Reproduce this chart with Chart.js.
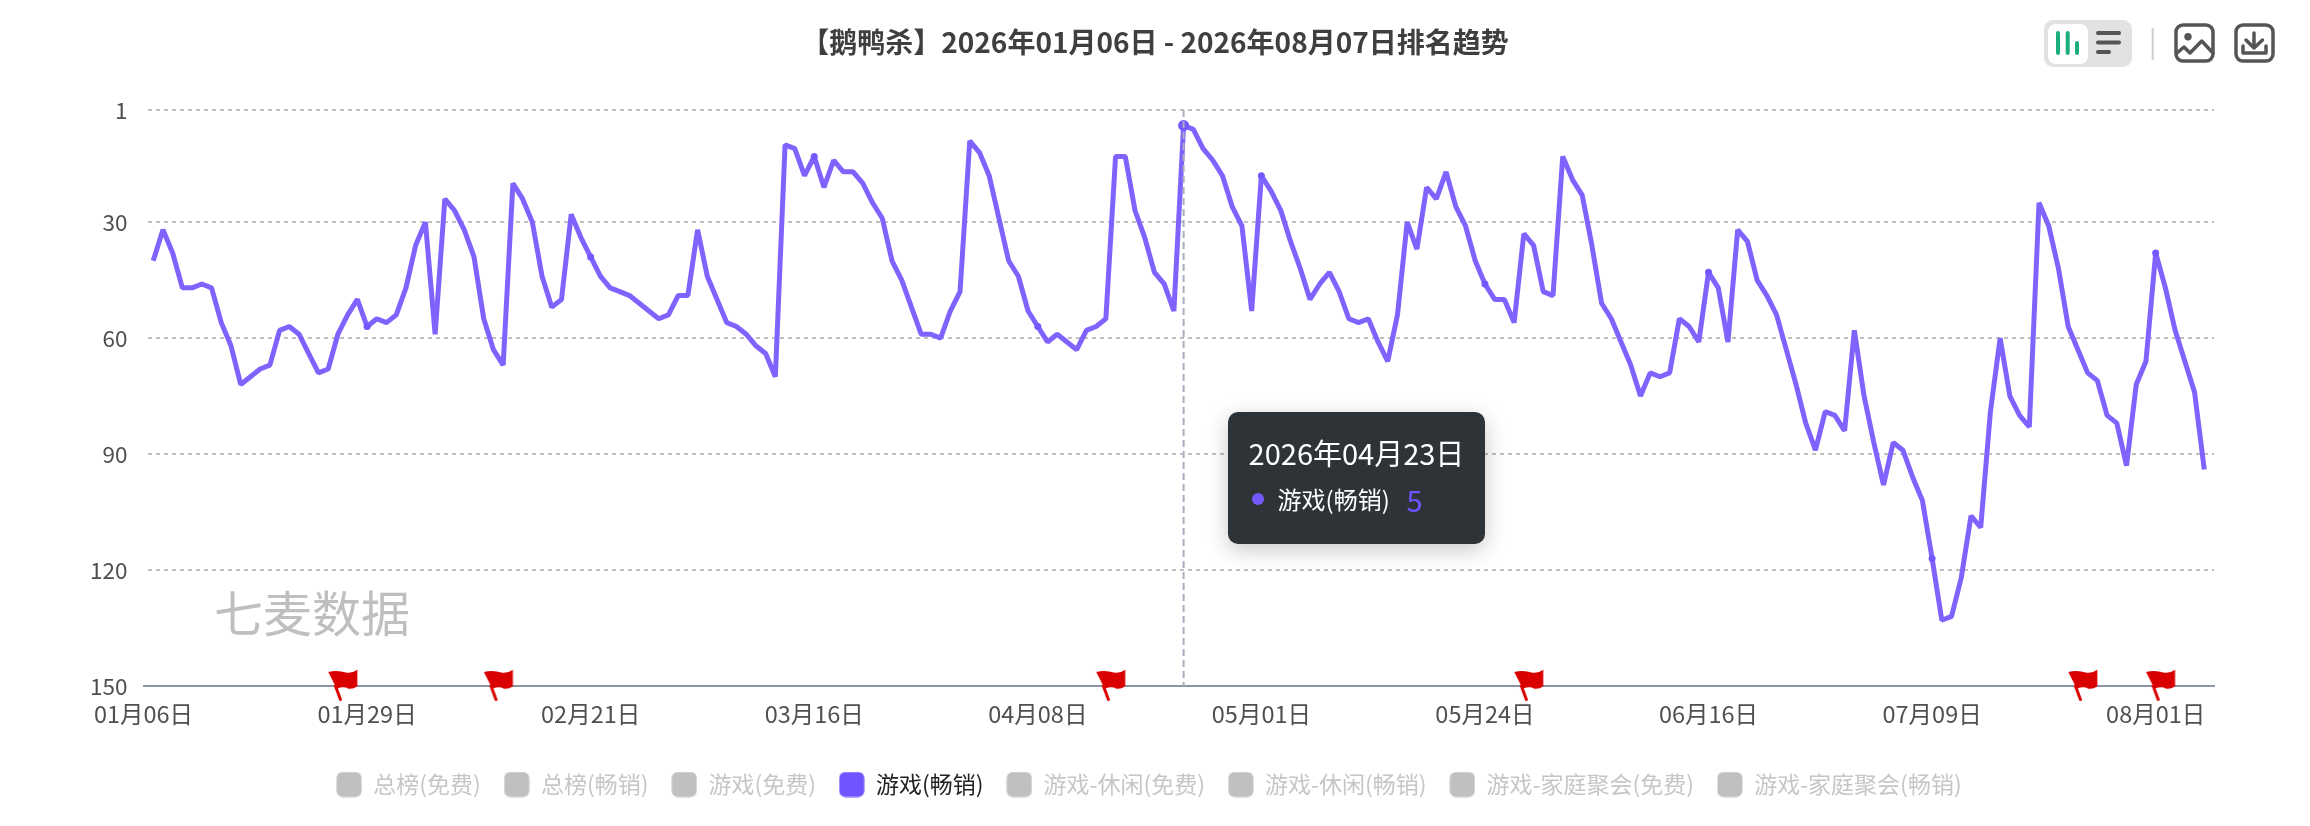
<!DOCTYPE html>
<html>
<head>
<meta charset="utf-8">
<title>鹅鸭杀排名趋势</title>
<script src="https://cdn.jsdelivr.net/npm/chart.js@4"></script>
<style>
    html, body { margin: 0; padding: 0; background: #fff; }
    body { width: 2310px; height: 826px; position: relative; overflow: hidden; font-family: "Noto Sans CJK SC", sans-serif; }
    canvas { position: absolute; left: 0; top: 0; }
    #watermark { position: absolute; left: 214px; top: 578px; font-size: 49px; line-height: 66px; color: #bfbfbf; white-space: nowrap; }
    #tools { position: absolute; left: 0; top: 0; }
    #tip { position: absolute; width: 257px; height: 132px; box-sizing: border-box; background: #2d3337; border-radius: 10px; box-shadow: 0 6px 22px rgba(0, 0, 0, 0.22); color: #fff; }
    #tip .date { position: absolute; left: 21px; top: 20px; font-size: 29px; line-height: 40px; white-space: nowrap; }
    #tip .dot { position: absolute; left: 24px; top: 81px; width: 12px; height: 12px; border-radius: 50%; background: #7358fa; }
    #tip .name { position: absolute; left: 50px; top: 70px; font-size: 24px; line-height: 34px; white-space: nowrap; }
    #tip .num { position: absolute; left: 179px; top: 67px; font-size: 29px; line-height: 40px; color: #6f54ff; }
</style>
</head>
<body>
<canvas id="rankChart" width="2310" height="826"></canvas>
<div id="watermark">七麦数据</div>
<svg id="tools" width="2310" height="80" fill="none">
    <rect x="2044" y="20" width="88" height="47" rx="9" fill="#e2e2e2"/>
    <rect x="2048" y="24" width="40" height="40" rx="8" fill="#fff"/>
    <g stroke="#1aae7c" stroke-width="4" stroke-linecap="round">
        <path d="M2058 33V53M2067.7 33V53M2077 43V53"/>
    </g>
    <g stroke="#555" stroke-width="4" stroke-linecap="round">
        <path d="M2098 33H2119M2098 42.5H2119M2098 52H2109"/>
    </g>
    <path d="M2152.7 28V60" stroke="#cfcfcf" stroke-width="2"/>
    <g stroke="#555" stroke-width="3.5" stroke-linecap="round" stroke-linejoin="round">
        <rect x="2176" y="25" width="37" height="36" rx="7"/>
        <path d="M2177 53L2184 47L2190 53L2201.7 41L2213 53"/>
        <rect x="2236" y="25" width="37" height="36" rx="7"/>
        <path d="M2254 33V48M2246 40L2254 48L2262.5 40M2243 46V53H2266V46"/>
    </g>
    <circle cx="2188" cy="36.7" r="3.7" fill="#555"/>
</svg>
<div id="tip">
    <div class="date"></div>
    <div class="dot"></div>
    <div class="name"></div>
    <div class="num"></div>
</div>
<script>
const chartTitle = '【鹅鸭杀】2026年01月06日 - 2026年08月07日排名趋势';
const legendNames = ['总榜(免费)', '总榜(畅销)', '游戏(免费)', '游戏(畅销)', '游戏-休闲(免费)', '游戏-休闲(畅销)', '游戏-家庭聚会(免费)', '游戏-家庭聚会(畅销)'];
const activeSeries = '游戏(畅销)';
const yTicks = [1, 30, 60, 90, 120, 150];
const tickLabels = ['01月06日', '01月29日', '02月21日', '03月16日', '04月08日', '05月01日', '05月24日', '06月16日', '07月09日', '08月01日'];
const flagDates = ['01月26日', '02月11日', '04月15日', '05月28日', '07月24日', '08月01日'];
const highlightDate = '04月23日';
const highlightTitle = '2026年04月23日';

// 01月06日 and 08月07日 have no rank on the picture
const rankValues = [null,
    40, 32, 38, 47, 47, 46, 47, 56, 62, 72,
    70, 68, 67, 58, 57, 59, 64, 69, 68, 59,
    54, 50, 57, 55, 56, 54, 47, 36, 30, 59,
    24, 27, 32, 39, 55, 63, 67, 20, 24, 30,
    44, 52, 50, 28, 34, 39, 44, 47, 48, 49,
    51, 53, 55, 54, 49, 49, 32, 44, 50, 56,
    57, 59, 62, 64, 70, 10, 11, 18, 13, 21,
    14, 17, 17, 20, 25, 29, 40, 45, 52, 59,
    59, 60, 53, 48, 9, 12, 18, 29, 40, 44,
    53, 57, 61, 59, 61, 63, 58, 57, 55, 13,
    13, 27, 34, 43, 46, 53, 5, 6, 11, 14,
    18, 26, 31, 53, 18, 22, 27, 35, 42, 50,
    46, 43, 48, 55, 56, 55, 61, 66, 54, 30,
    37, 21, 24, 17, 26, 31, 40, 46, 50, 50,
    56, 33, 36, 48, 49, 13, 19, 23, 36, 51,
    55, 61, 67, 75, 69, 70, 69, 55, 57, 61,
    43, 47, 61, 32, 35, 45, 49, 54, 63, 72,
    82, 89, 79, 80, 84, 58, 75, 87, 98, 87,
    89, 96, 102, 117, 133, 132, 122, 106, 109, 79,
    60, 75, 80, 83, 25, 31, 42, 57, 63, 69,
    71, 80, 82, 93, 72, 66, 38, 47, 58, 66,
    74, 94,
    null];

// one category per day, 01月06日 to 08月07日
const categories = [];
for (let d = new Date(Date.UTC(2026, 0, 6)); d <= new Date(Date.UTC(2026, 7, 7)); d.setUTCDate(d.getUTCDate() + 1)) {
    const mm = String(d.getUTCMonth() + 1).padStart(2, '0');
    const dd = String(d.getUTCDate()).padStart(2, '0');
    categories.push(mm + '月' + dd + '日');
}

const FONT = '"Noto Sans CJK SC", sans-serif';
const highlightIndex = categories.indexOf(highlightDate);
const flagValues = categories.map(c => flagDates.includes(c) ? 150 : null);

// Legend swatch
function makeSwatch(color) {
    const c = document.createElement('canvas');
    c.width = 26;
    c.height = 26;
    const g = c.getContext('2d');
    g.fillStyle = color;
    g.beginPath();
    g.roundRect(0.5, 0.5, 25, 25, 6);
    g.fill();
    return c;
}

// Red flag sitting on the axis, the canvas centre is the data point
function makeFlag() {
    const c = document.createElement('canvas');
    c.width = 60;
    c.height = 60;
    const g = c.getContext('2d');
    g.fillStyle = '#d90000';
    g.beginPath();
    g.moveTo(20.4, 16);
    g.quadraticCurveTo(28.8, 13.5, 38.8, 16.7);
    g.quadraticCurveTo(44, 17.5, 49.4, 13.7);
    g.lineTo(49.4, 30.3);
    g.quadraticCurveTo(45, 33.5, 40.4, 32.7);
    g.quadraticCurveTo(36, 30, 28.8, 32.7);
    g.closePath();
    g.fill();
    g.strokeStyle = '#d90000';
    g.lineWidth = 3;
    g.lineCap = 'round';
    g.beginPath();
    g.moveTo(27.5, 30);
    g.lineTo(32.5, 43.5);
    g.stroke();
    return c;
}

const swatchOn = makeSwatch('#6f54ff');
const swatchOff = makeSwatch('#c0c0c0');

const crosshair = {
    id: 'crosshair',
    afterLayout(chart) {
        // the legend row sits a little left of the page centre
        chart.legend.left -= 6;
        chart.legend.right -= 6;
    },
    afterDatasetsDraw(chart) {
        const g = chart.ctx;
        const x = chart.scales.x.getPixelForValue(highlightIndex);
        g.save();
        g.strokeStyle = '#a9aec0';
        g.lineWidth = 2;
        g.setLineDash([7, 4]);
        g.beginPath();
        g.moveTo(x, chart.chartArea.top);
        g.lineTo(x, chart.chartArea.bottom);
        g.stroke();
        g.restore();
    },
    afterRender(chart) {
        const tip = document.getElementById('tip');
        tip.querySelector('.date').textContent = highlightTitle;
        tip.querySelector('.name').textContent = activeSeries;
        tip.querySelector('.num').textContent = rankValues[highlightIndex];
        tip.style.left = (chart.scales.x.getPixelForValue(highlightIndex) + 44) + 'px';
        tip.style.top = '412px';
    }
};

new Chart(document.getElementById('rankChart'), {
    type: 'line',
    plugins: [crosshair],
    data: {
        labels: categories,
        datasets: [{
            label: activeSeries,
            data: rankValues,
            borderColor: '#8063ff',
            backgroundColor: '#7358ff',
            borderWidth: 5,
            borderJoinStyle: 'bevel',
            tension: 0,
            pointBorderWidth: 0,
            pointRadius: (ctx) => {
                if (ctx.dataIndex === highlightIndex) return 5.5;
                return tickLabels.includes(categories[ctx.dataIndex]) ? 3.5 : 0;
            },
            spanGaps: false
        }, {
            label: 'flags',
            data: flagValues,
            showLine: false,
            clip: false,
            pointStyle: makeFlag(),
            pointRadius: 30
        }]
    },
    options: {
        responsive: false,
        animation: false,
        events: [],
        layout: { padding: { top: 0, left: 0, right: 0, bottom: 20 } },
        scales: {
            x: {
                grid: { display: false },
                border: { display: true, color: '#8d94a6', width: 2 },
                ticks: { autoSkip: false, maxRotation: 0, padding: 5.5, color: '#4f4f4f', font: { family: FONT, size: 23.5 } },
                afterBuildTicks(axis) {
                    axis.ticks = axis.ticks.filter(t => tickLabels.includes(categories[t.value]));
                },
                afterFit(axis) {
                    axis.height = 64;
                    axis.paddingLeft = 0;
                    axis.paddingRight = 0;
                }
            },
            y: {
                reverse: true,
                min: 1,
                max: 150,
                grid: {
                    drawTicks: false,
                    lineWidth: 2,
                    color: (ctx) => ctx.tick.value === 150 ? 'rgba(0,0,0,0)' : '#c0c0c0'
                },
                border: { display: false, dash: [4, 4], dashOffset: 4 },
                ticks: { padding: 16, color: '#4f4f4f', font: { family: FONT, size: 22.5 } },
                afterBuildTicks(axis) {
                    axis.ticks = yTicks.map(v => ({ value: v }));
                },
                afterFit(axis) {
                    axis.width = 143.5;
                }
            },
            // empty right-hand box, keeps the plot short of the page edge while title and legend stay centred on the page
            rightGap: {
                position: 'right',
                grid: { display: false },
                border: { display: false },
                ticks: { display: false },
                afterFit(axis) {
                    axis.width = 96;
                }
            }
        },
        plugins: {
            title: {
                display: true,
                text: chartTitle,
                color: '#3f3f3f',
                font: { family: FONT, size: 28, weight: 'bold', lineHeight: 1.2 },
                padding: { top: 26, bottom: 50.4 }
            },
            legend: {
                position: 'bottom',
                labels: {
                    usePointStyle: true,
                    pointStyleWidth: 25.5,
                    padding: 23,
                    font: { family: FONT, size: 23 },
                    generateLabels: () => legendNames.map(name => ({
                        text: name,
                        hidden: false,
                        pointStyle: name === activeSeries ? swatchOn : swatchOff,
                        fontColor: name === activeSeries ? '#222' : '#c6c6c6',
                        lineWidth: 0
                    }))
                }
            },
            tooltip: { enabled: false }
        }
    }
});
</script>
</body>
</html>
